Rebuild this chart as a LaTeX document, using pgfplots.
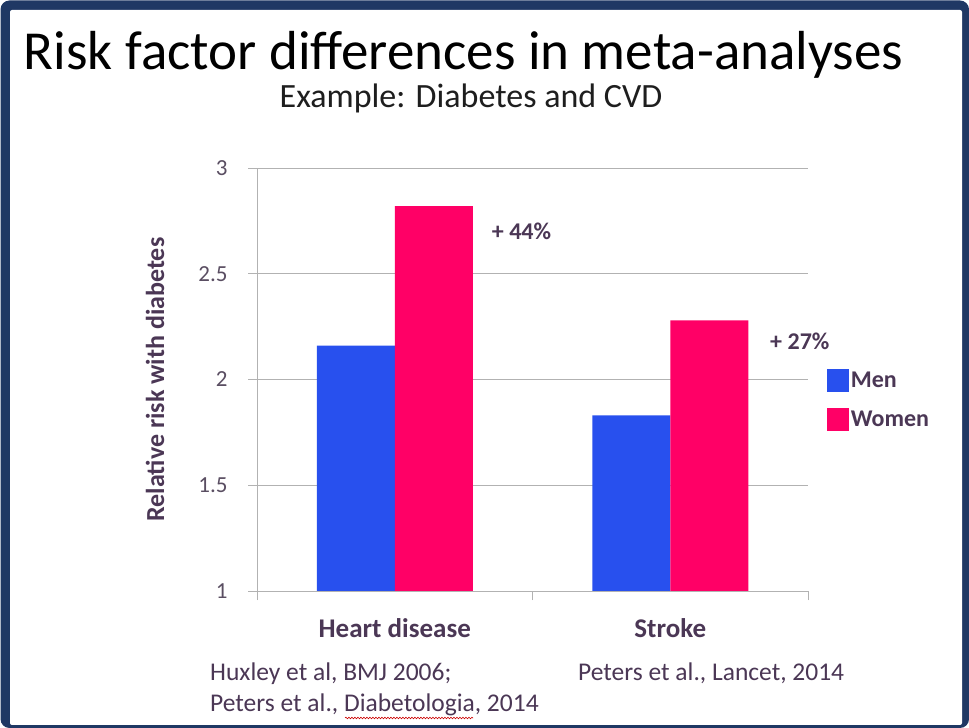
\documentclass[border=0pt]{standalone}
\usepackage{pgfplots}
\pgfplotsset{compat=1.18}
\usetikzlibrary{decorations.pathmorphing}
\usepackage{fontspec}
\setmainfont{Carlito}
\definecolor{navy}{RGB}{31,56,100}
\definecolor{menblue}{RGB}{40,80,238}
\definecolor{womenpink}{RGB}{255,0,102}
\definecolor{txtpurple}{RGB}{75,55,85}
\definecolor{ticklab}{RGB}{90,78,98}
\definecolor{gridgray}{RGB}{178,178,178}
\begin{document}
\begin{tikzpicture}[x=1pt,y=1pt]
\useasboundingbox (0,0) rectangle (969,728);
\fill[white] (0,0) rectangle (969,728);
\fill[navy, rounded corners=9pt] (0.5,0) rectangle (969,727.5);
\fill[white, rounded corners=2pt] (10,3) rectangle (962,718);
\node[anchor=base, font=\fontsize{55}{60}\selectfont] at (463.5,658) {Risk factor differences in meta-analyses};
\node[anchor=base, font=\fontsize{34}{38}\selectfont, text={rgb,255:red,30;green,30;blue,30}] at (471,620) {Example: Diabetes and CVD};
\begin{axis}[
  at={(257pt,137pt)}, anchor=south west,
  scale only axis, width=551pt, height=423pt,
  clip=false,
  xmin=-0.5, xmax=1.5, ymin=1, ymax=3,
  ybar=0pt, bar width=78pt,
  axis x line*=bottom, axis y line*=left,
  axis line style={gridgray, line width=0.9pt, -},
  xtick={-0.5,0.5,1.5}, xticklabels={},
  extra x ticks={0,1}, extra x tick labels={Heart disease,Stroke},
  extra x tick style={major tick length=0pt, grid=none,
    tick label style={font=\fontsize{27}{30}\selectfont\bfseries, text=txtpurple, yshift=-24pt}},
  ytick={1,1.5,2,2.5,3},
  yticklabels={1,1.5,2,2.5,3},
  yticklabel style={font=\fontsize{23}{26}\selectfont, text=ticklab, xshift=-17pt},
  ymajorgrids, grid style={gridgray, line width=0.9pt},
  tick align=outside, major tick length=9pt,
  xtick pos=bottom, ytick pos=left,
  tick style={gridgray, line width=0.9pt},
  ylabel={Relative risk with diabetes},
  ylabel style={at={(axis description cs:-0.185,0.5)}, anchor=center, rotate=0,
    font=\fontsize{26}{30}\selectfont\bfseries, text=txtpurple},
  legend style={draw=none, fill=none, at={(axis description cs:1.034,0.525)}, anchor=north west,
    font=\fontsize{24}{28}\selectfont\bfseries, text=txtpurple, inner sep=0pt,
    row sep=16pt, nodes={inner xsep=2pt, inner ysep=0pt}},
  legend image code/.code={\draw[#1, draw=none] (0pt,-11.5pt) rectangle (22pt,11.5pt);},
  legend cell align=left,
]
\addplot[fill=menblue, draw=none] coordinates {(0,2.16) (1,1.83)};
\addplot[fill=womenpink, draw=none] coordinates {(0,2.82) (1,2.28)};
\legend{Men,Women}
\node[anchor=west, font=\fontsize{24}{28}\selectfont\bfseries, text=txtpurple] at (axis cs:0.34,2.70) {+ 44\%};
\node[anchor=west, font=\fontsize{24}{28}\selectfont\bfseries, text=txtpurple] at (axis cs:1.35,2.18) {+ 27\%};
\end{axis}
\begin{scope}[font=\fontsize{25.5}{30}\selectfont, text=txtpurple]
\node[anchor=base west, inner sep=0pt] at (210,47) {Huxley et al, BMJ 2006;};
\node[anchor=base west, inner sep=0pt] at (210,16) {Peters et al., Diabetologia, 2014};
\node[anchor=base west, inner sep=0pt] at (578,47) {Peters et al., Lancet, 2014};
\end{scope}
\draw[red!80!black, line width=0.6pt, decorate, decoration={snake, amplitude=0.8pt, segment length=3pt}] (345,10) -- (473,10);
\end{tikzpicture}
\end{document}
